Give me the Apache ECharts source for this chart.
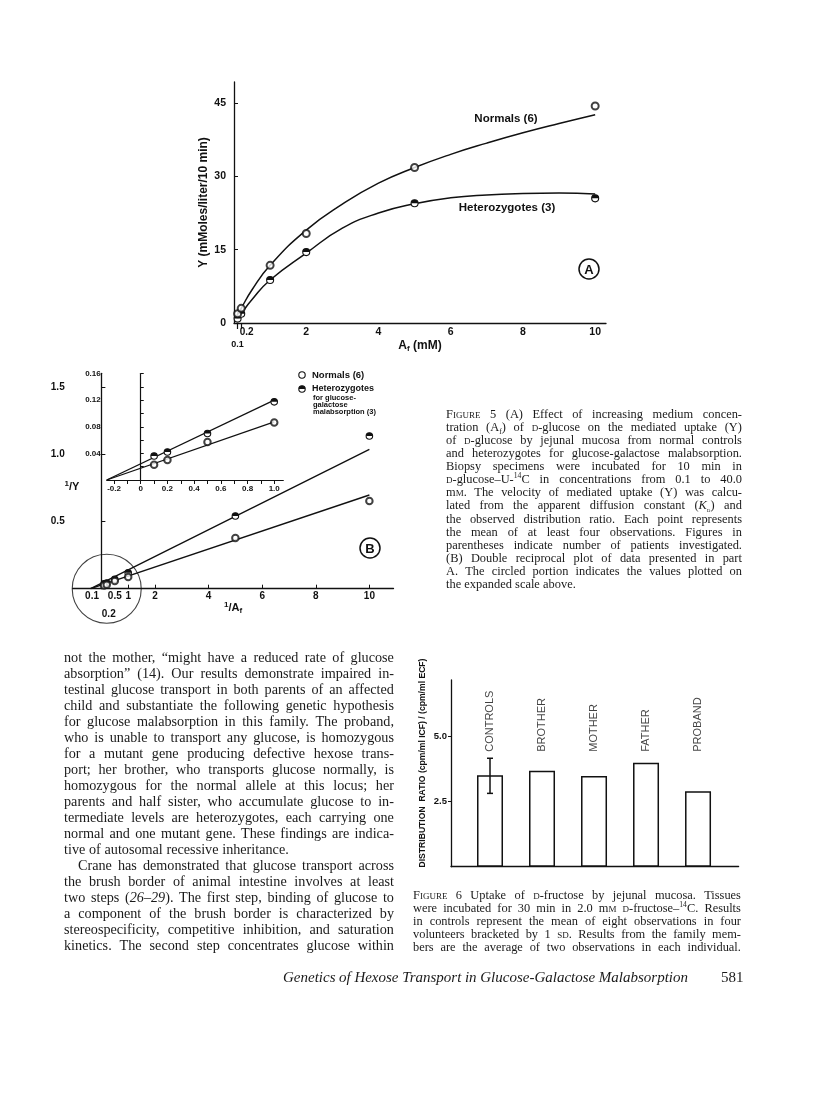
<!DOCTYPE html>
<html lang="en">
<head>
<meta charset="UTF-8">
<title>Figure 5 / Figure 6 - hexose transport</title>
<script src="https://cdn.jsdelivr.net/npm/echarts@6.0.0/dist/echarts.min.js"></script>
<style>
  body { margin: 0; background: #fff; }
  #page { position: relative; width: 816px; height: 1100px; overflow: hidden; }
  #main { position: absolute; left: 0; top: 0; width: 816px; height: 1100px; }
  .blk { position: absolute; font-family: 'Liberation Serif', serif; color: #1a1a1a; }
  .ln { display: flex; justify-content: space-between; align-items: baseline; white-space: nowrap; }
  .ln.last { justify-content: flex-start; column-gap: 0.26em; }
  sc { font-variant: small-caps; }
  sup, sub { font-size: 0.62em; line-height: 0; }
</style>
</head>
<body>
<div id="page">
  <div id="main"></div>
</div>

<script>
// ---- Figure 5A : uptake Y vs A_f ----
var afX = [0.1, 0.2, 1, 2, 5, 10];
var yNormals = [1.9, 3.0, 11.8, 18.3, 31.8, 44.4];
var yHetero = [0.9, 1.9, 8.8, 14.5, 24.5, 25.5];
// hand drawn curves
var curveX = [0.1, 0.2, 0.5, 1, 2, 3, 4, 5, 6, 7, 8, 9, 10];
var curveNormals = [1.6, 3.0, 6.8, 11.8, 19.0, 24.3, 28.6, 31.8, 34.5, 36.8, 38.9, 40.8, 42.6];
var curveHetero = [0.8, 1.9, 4.8, 8.8, 14.3, 19.4, 22.5, 24.4, 25.6, 26.2, 26.5, 26.6, 26.4];
var ticksAx = [0.1, 0.2, 2, 4, 6, 8, 10];
var ticksAy = [0, 15, 30, 45];

// ---- Figure 5B : double reciprocal ----
var recX = [0.1, 0.2, 0.5, 1, 5, 10];
var recNormals = [0.023, 0.030, 0.057, 0.087, 0.376, 0.651];
var recHetero = [0.036, 0.042, 0.070, 0.118, 0.540, 1.134];
var fitX = [-0.4, 10];
var fitNormals = [0, 0.696];
var fitHetero = [0, 1.035];
var ticksBx = [0.1, 0.2, 0.5, 1, 2, 4, 6, 8, 10];
var ticksBy = [0.5, 1.0, 1.5];

// inset (expanded scale)
var insX = [0.1, 0.2, 0.5, 1.0];
var insNormals = [0.023, 0.030, 0.057, 0.0865];
var insHetero = [0.036, 0.042, 0.070, 0.1175];
var insFitX = [-0.255, 1.0];
var insFitNormals = [0, 0.0875];
var insFitHetero = [0, 0.120];
var ticksInsX = [-0.2, -0.1, 0, 0.1, 0.2, 0.3, 0.4, 0.5, 0.6, 0.7, 0.8, 0.9, 1.0];
var labelsInsX = [-0.2, 0, 0.2, 0.4, 0.6, 0.8, 1.0];
var labelsInsY = [0.04, 0.08, 0.12, 0.16];
var ticksInsY = [0.02, 0.04, 0.06, 0.08, 0.10, 0.12, 0.14, 0.16];

// ---- Figure 6 : distribution ratio bars ----
var people = ['CONTROLS', 'BROTHER', 'MOTHER', 'FATHER', 'PROBAND'];
var ratio = [3.52, 3.69, 3.49, 4.0, 2.9];
var ctrlLow = 2.82, ctrlHigh = 4.17;
var ticks6y = [2.5, 5.0];

function pairs(xs, ys) { return xs.map(function (x, i) { return [x, ys[i]]; }); }

var ink = '#111';
var sans = 'Liberation Sans';
var lab = { fontFamily: sans, fontWeight: 'bold', color: ink };

// open circle with the upper half filled (heterozygote marker)
function halfDot(size) {
  return function (params, api) {
    var p = api.coord([api.value(0), api.value(1)]);
    var r = size / 2;
    return { type: 'group', children: [
      { type: 'circle', shape: { cx: p[0], cy: p[1], r: r }, style: { fill: '#fff', stroke: ink, lineWidth: 1.1 } },
      { type: 'sector', shape: { cx: p[0], cy: p[1], r: r, startAngle: Math.PI, endAngle: Math.PI * 2 }, style: { fill: ink } }
    ] };
  };
}

var myChart = echarts.init(document.getElementById('main'));

var option = {
  animation: false,
  backgroundColor: '#fff',
  grid: [
    { left: 234, top: 82, width: 372, height: 241 },
    { left: 72.7, top: 373.3, width: 320.8, height: 215.4 },
    { left: 106.7, top: 373.6, width: 176.6, height: 106.4 },
    { left: 451, top: 680, width: 287.6, height: 186.7 }
  ],
  xAxis: [
    {
      gridIndex: 0, type: 'value', min: 0, max: 10.3,
      splitLine: { show: false },
      axisLine: { lineStyle: { color: ink, width: 1.3 } },
      axisTick: { customValues: [0.1, 0.2], length: 6, lineStyle: { color: ink, width: 1.2 } },
      axisLabel: Object.assign({
        customValues: ticksAx, fontSize: 10.5, margin: 4,
        formatter: function (v) {
          if (v === 0.1) return '{d|0.1}';
          if (v === 0.2) return '{r|0.2}';
          return String(v);
        },
        rich: { d: { fontSize: 9, padding: [13, 0, 0, 0] }, r: { fontSize: 10, padding: [0, 0, 0, 11] } }
      }, lab),
      name: '{a|A}{f|f}{a| (mM)}', nameLocation: 'middle', nameGap: 15, nameMoveOverlap: false,
      nameTextStyle: { rich: {
        a: { fontFamily: sans, fontWeight: 'bold', fontSize: 12, color: ink },
        f: { fontFamily: sans, fontWeight: 'bold', fontSize: 8, color: ink, padding: [7, 0, 0, 0] }
      } }
    },
    {
      gridIndex: 1, type: 'value', min: -1.07, max: 10.9,
      splitLine: { show: false },
      axisLine: { lineStyle: { color: ink, width: 1.3 } },
      axisTick: { customValues: [1, 2, 4, 6, 8, 10], inside: true, length: 4, lineStyle: { color: ink } },
      axisLabel: Object.assign({
        customValues: ticksBx, fontSize: 10, margin: 3,
        formatter: function (v) {
          if (v === 0.1) return '{l|0.1}';
          if (v === 0.2) return '{d|0.2}';
          return String(v);
        },
        rich: { l: { padding: [0, 24, 0, 0] }, d: { padding: [18, 0, 0, 4] } }
      }, lab),
      name: '{s|1}{a|/A}{f|f}', nameLocation: 'middle', nameGap: 12, nameMoveOverlap: false,
      nameTextStyle: { rich: {
        s: { fontFamily: sans, fontWeight: 'bold', fontSize: 8, color: ink, padding: [0, 0, 6, 0] },
        a: { fontFamily: sans, fontWeight: 'bold', fontSize: 11, color: ink },
        f: { fontFamily: sans, fontWeight: 'bold', fontSize: 8, color: ink, padding: [6, 0, 0, 0] }
      } }
    },
    {
      gridIndex: 2, type: 'value', min: -0.255, max: 1.068,
      splitLine: { show: false },
      axisLine: { lineStyle: { color: ink, width: 1.2 } },
      axisTick: { customValues: ticksInsX, length: 4, lineStyle: { color: ink } },
      axisLabel: Object.assign({
        customValues: labelsInsX, fontSize: 8, margin: 5,
        formatter: function (v) { return v === 0 ? '0' : v.toFixed(1); }
      }, lab)
    },
    {
      gridIndex: 3, type: 'value', min: 0.25, max: 5.78,
      splitLine: { show: false },
      axisLine: { lineStyle: { color: ink, width: 1.3 } },
      axisTick: { show: false },
      axisLabel: { show: false }
    }
  ],
  yAxis: [
    {
      gridIndex: 0, type: 'value', min: 0, max: 49.3,
      splitLine: { show: false },
      axisLine: { lineStyle: { color: ink, width: 1.3 } },
      axisTick: { customValues: [15, 30, 45], inside: true, length: 4, lineStyle: { color: ink } },
      axisLabel: Object.assign({ customValues: ticksAy, fontSize: 10.5, margin: 8 }, lab),
      name: 'Y (mMoles/liter/10 min)', nameLocation: 'middle', nameGap: 24,
      nameTextStyle: { fontFamily: sans, fontWeight: 'bold', fontSize: 12, color: ink }
    },
    {
      gridIndex: 1, type: 'value', min: 0, max: 1.6,
      splitLine: { show: false },
      axisLine: { lineStyle: { color: ink, width: 1.3 } },
      axisTick: { customValues: ticksBy, inside: true, length: 4, lineStyle: { color: ink } },
      axisLabel: Object.assign({
        customValues: ticksBy, fontSize: 10, margin: 8,
        formatter: function (v) { return v.toFixed(1); }
      }, lab)
    },
    {
      gridIndex: 2, type: 'value', min: 0, max: 0.16,
      splitLine: { show: false },
      axisLine: { lineStyle: { color: ink, width: 1.2 } },
      axisTick: { customValues: ticksInsY, inside: true, length: 3, lineStyle: { color: ink } },
      axisLabel: Object.assign({
        customValues: labelsInsY, fontSize: 8, margin: 6,
        formatter: function (v) { return v.toFixed(2); }
      }, lab)
    },
    {
      gridIndex: 3, type: 'value', min: 0, max: 7.18,
      splitLine: { show: false },
      axisLine: { lineStyle: { color: ink, width: 1.3 } },
      axisTick: { customValues: ticks6y, length: 3, lineStyle: { color: ink } },
      axisLabel: Object.assign({
        customValues: ticks6y, fontSize: 9.5, margin: 4,
        formatter: function (v) { return v.toFixed(1); }
      }, lab)
    }
  ],
  series: [
    // 5A curves and points
    { type: 'line', xAxisIndex: 0, yAxisIndex: 0, data: pairs(curveX, curveNormals), smooth: 0.5,
      showSymbol: false, lineStyle: { color: ink, width: 1.5 } },
    { type: 'line', xAxisIndex: 0, yAxisIndex: 0, data: pairs(curveX, curveHetero), smooth: 0.5,
      showSymbol: false, lineStyle: { color: ink, width: 1.5 } },
    { type: 'scatter', xAxisIndex: 0, yAxisIndex: 0, data: pairs(afX, yNormals), symbol: 'emptyCircle', symbolSize: 7,
      itemStyle: { color: ink, borderWidth: 1.1 }, z: 5, clip: false },
    { type: 'custom', xAxisIndex: 0, yAxisIndex: 0, data: pairs(afX, yHetero), renderItem: halfDot(7), z: 5, clip: false },

    // 5B main plot
    { type: 'line', xAxisIndex: 1, yAxisIndex: 1, data: pairs(fitX, fitNormals), showSymbol: false,
      lineStyle: { color: ink, width: 1.4 } },
    { type: 'line', xAxisIndex: 1, yAxisIndex: 1, data: pairs(fitX, fitHetero), showSymbol: false,
      lineStyle: { color: ink, width: 1.4 } },
    { type: 'scatter', xAxisIndex: 1, yAxisIndex: 1, data: pairs(recX, recNormals), symbol: 'emptyCircle', symbolSize: 6.5,
      itemStyle: { color: ink, borderWidth: 1.1 }, z: 5 },
    { type: 'custom', xAxisIndex: 1, yAxisIndex: 1, data: pairs(recX, recHetero), renderItem: halfDot(6.5), z: 5 },
    // the circled region that is expanded in the inset
    { type: 'scatter', xAxisIndex: 1, yAxisIndex: 1, data: [[0.2, 0]], symbol: 'circle', symbolSize: 69, clip: false,
      itemStyle: { color: 'rgba(0,0,0,0)', borderColor: ink, borderWidth: 1.1 }, z: 1, silent: true },

    // inset
    { type: 'line', xAxisIndex: 2, yAxisIndex: 2, data: pairs(insFitX, insFitNormals), showSymbol: false,
      lineStyle: { color: ink, width: 1.3 } },
    { type: 'line', xAxisIndex: 2, yAxisIndex: 2, data: pairs(insFitX, insFitHetero), showSymbol: false,
      lineStyle: { color: ink, width: 1.3 } },
    { type: 'scatter', xAxisIndex: 2, yAxisIndex: 2, data: pairs(insX, insNormals), symbol: 'emptyCircle', symbolSize: 6.5,
      itemStyle: { color: ink, borderWidth: 1.1 }, z: 5 },
    { type: 'custom', xAxisIndex: 2, yAxisIndex: 2, data: pairs(insX, insHetero), renderItem: halfDot(6.5), z: 5 },

    // figure 6
    { type: 'bar', xAxisIndex: 3, yAxisIndex: 3, barWidth: 26,
      data: ratio.map(function (v, i) { return [i + 1, v]; }),
      itemStyle: { color: '#fff', borderColor: ink, borderWidth: 1.5 } },
    { type: 'custom', xAxisIndex: 3, yAxisIndex: 3, data: [[1, ctrlLow, ctrlHigh]], z: 5,
      renderItem: function (params, api) {
        var lo = api.coord([api.value(0), api.value(1)]);
        var hi = api.coord([api.value(0), api.value(2)]);
        var st = { stroke: ink, lineWidth: 1.5 };
        return { type: 'group', children: [
          { type: 'line', shape: { x1: lo[0], y1: lo[1], x2: hi[0], y2: hi[1] }, style: st },
          { type: 'line', shape: { x1: lo[0] - 3, y1: lo[1], x2: lo[0] + 3, y2: lo[1] }, style: st },
          { type: 'line', shape: { x1: hi[0] - 3, y1: hi[1], x2: hi[0] + 3, y2: hi[1] }, style: st }
        ] };
      } },
    { type: 'scatter', xAxisIndex: 3, yAxisIndex: 3, symbolSize: 0, silent: true,
      data: people.map(function (p, i) { return [i + 1, 4.42, p]; }),
      label: { show: true, position: 'inside', rotate: 90, align: 'left', verticalAlign: 'middle',
        formatter: function (p) { return p.data[2]; },
        fontFamily: sans, fontSize: 11, color: ink } }
  ],
  graphic: [
    { type: 'text', x: 506, y: 119, style: { text: 'Normals (6)', font: 'bold 11.5px "Liberation Sans"', fill: ink, align: 'center', verticalAlign: 'middle' } },
    { type: 'text', x: 507, y: 208, style: { text: 'Heterozygotes (3)', font: 'bold 11.5px "Liberation Sans"', fill: ink, align: 'center', verticalAlign: 'middle' } },
    { type: 'circle', shape: { cx: 589, cy: 269, r: 10 }, style: { fill: 'none', stroke: ink, lineWidth: 1.5 } },
    { type: 'text', x: 589, y: 270, style: { text: 'A', font: 'bold 13px "Liberation Sans"', fill: ink, align: 'center', verticalAlign: 'middle' } },
    { type: 'circle', shape: { cx: 370, cy: 548, r: 10 }, style: { fill: 'none', stroke: ink, lineWidth: 1.5 } },
    { type: 'text', x: 370, y: 549, style: { text: 'B', font: 'bold 13px "Liberation Sans"', fill: ink, align: 'center', verticalAlign: 'middle' } },
    { type: 'text', x: 72, y: 487, style: { text: '{s|1}{a|/Y}', fill: ink, align: 'center', verticalAlign: 'middle',
      rich: { s: { fontFamily: sans, fontWeight: 'bold', fontSize: 8, padding: [0, 0, 6, 0] },
              a: { fontFamily: sans, fontWeight: 'bold', fontSize: 11 } } } },
    // legend of part B
    { type: 'circle', shape: { cx: 302, cy: 375, r: 3.2 }, style: { fill: '#fff', stroke: ink, lineWidth: 1.1 } },
    { type: 'text', x: 312, y: 375, style: { text: 'Normals (6)', font: 'bold 9.5px "Liberation Sans"', fill: ink, align: 'left', verticalAlign: 'middle' } },
    { type: 'circle', shape: { cx: 302, cy: 389, r: 3.2 }, style: { fill: '#fff', stroke: ink, lineWidth: 1.1 } },
    { type: 'sector', shape: { cx: 302, cy: 389, r: 3.2, startAngle: Math.PI, endAngle: Math.PI * 2 }, style: { fill: ink } },
    { type: 'text', x: 312, y: 389, style: { text: 'Heterozygotes', font: 'bold 9px "Liberation Sans"', fill: ink, align: 'left', verticalAlign: 'middle' } },
    { type: 'text', x: 313, y: 397.5, style: { text: 'for glucose-', font: 'bold 7.5px "Liberation Sans"', fill: ink, align: 'left', verticalAlign: 'middle' } },
    { type: 'text', x: 313, y: 404.5, style: { text: 'galactose', font: 'bold 7.5px "Liberation Sans"', fill: ink, align: 'left', verticalAlign: 'middle' } },
    { type: 'text', x: 313, y: 411.5, style: { text: 'malabsorption (3)', font: 'bold 7.5px "Liberation Sans"', fill: ink, align: 'left', verticalAlign: 'middle' } },
    // figure 6 axis title
    { type: 'text', x: 423, y: 763, rotation: Math.PI / 2,
      style: { text: 'DISTRIBUTION  RATIO (cpm/ml ICF) / (cpm/ml ECF)', font: 'bold 8.6px "Liberation Sans"', fill: ink, align: 'center', verticalAlign: 'middle' } }
  ]
};

myChart.setOption(option);

// ---- page text ----
var cap5 = [
  '<sc>Figure</sc> 5 (A) Effect of increasing medium concen-',
  'tration (A<sub>f</sub>) of <sc>d</sc>-glucose on the mediated uptake (Y)',
  'of <sc>d</sc>-glucose by jejunal mucosa from normal controls',
  'and heterozygotes for glucose-galactose malabsorption.',
  'Biopsy specimens were incubated for 10 min in',
  '<sc>d</sc>-glucose–U-<sup>14</sup>C in concentrations from 0.1 to 40.0',
  'm<sc>m</sc>. The velocity of mediated uptake (Y) was calcu-',
  'lated from the apparent diffusion constant (<i>K</i><sub><sc>d</sc></sub>) and',
  'the observed distribution ratio. Each point represents',
  'the mean of at least four observations. Figures in',
  'parentheses indicate number of patients investigated.',
  '(B) Double reciprocal plot of data presented in part',
  'A. The circled portion indicates the values plotted on',
  '*the expanded scale above.'
];
var body = [
  'not the mother, “might have a reduced rate of glucose',
  'absorption” (14). Our results demonstrate impaired in-',
  'testinal glucose transport in both parents of an affected',
  'child and substantiate the following genetic hypothesis',
  'for glucose malabsorption in this family. The proband,',
  'who is unable to transport any glucose, is homozygous',
  'for a mutant gene producing defective hexose trans-',
  'port; her brother, who transports glucose normally, is',
  'homozygous for the normal allele at this locus; her',
  'parents and half sister, who accumulate glucose to in-',
  'termediate levels are heterozygotes, each carrying one',
  'normal and one mutant gene. These findings are indica-',
  '*tive of autosomal recessive inheritance.',
  '>Crane has demonstrated that glucose transport across',
  'the brush border of animal intestine involves at least',
  'two steps (<i>26–29</i>). The first step, binding of glucose to',
  'a component of the brush border is characterized by',
  'stereospecificity, competitive inhibition, and saturation',
  'kinetics. The second step concentrates glucose within'
];
var cap6 = [
  '<sc>Figure</sc> 6 Uptake of <sc>d</sc>-fructose by jejunal mucosa. Tissues',
  'were incubated for 30 min in 2.0 m<sc>m</sc> <sc>d</sc>-fructose–<sup>14</sup>C. Results',
  'in controls represent the mean of eight observations in four',
  'volunteers bracketed by 1 <sc>sd</sc>. Results from the family mem-',
  'bers are the average of two observations in each individual.'
];
var footer = ['<i>Genetics of Hexose Transport in Glucose-Galactose Malabsorption</i>'];

function block(lines, left, top, width, lh, fs, extra) {
  var box = document.createElement('div');
  box.className = 'blk';
  box.style.cssText = 'left:' + left + 'px;top:' + top + 'px;width:' + width + 'px;font-size:' + fs + 'px;' + (extra || '');
  lines.forEach(function (raw) {
    var row = document.createElement('div');
    row.className = 'ln';
    var t = raw;
    if (t.charAt(0) === '*') { row.className += ' last'; t = t.slice(1); }
    if (t.charAt(0) === '>') { row.style.paddingLeft = '14px'; t = t.slice(1); }
    row.style.height = lh + 'px';
    row.style.lineHeight = lh + 'px';
    t.split(' ').filter(function (w) { return w.length; }).forEach(function (w) {
      var s = document.createElement('span');
      s.innerHTML = w;
      row.appendChild(s);
    });
    box.appendChild(row);
  });
  document.getElementById('page').appendChild(box);
}

block(cap5, 446, 407.8, 296, 13.1, 12.4);
block(body, 64, 649, 330, 16, 14.2);
block(cap6, 413, 888.5, 328, 13.1, 12.4);
block(footer.map(function (l) { return l.replace(/ /g, '</i> <i>'); }), 283, 969, 405, 16, 15);
block(['*581'], 721, 969, 30, 16, 15);
</script>
</body>
</html>
